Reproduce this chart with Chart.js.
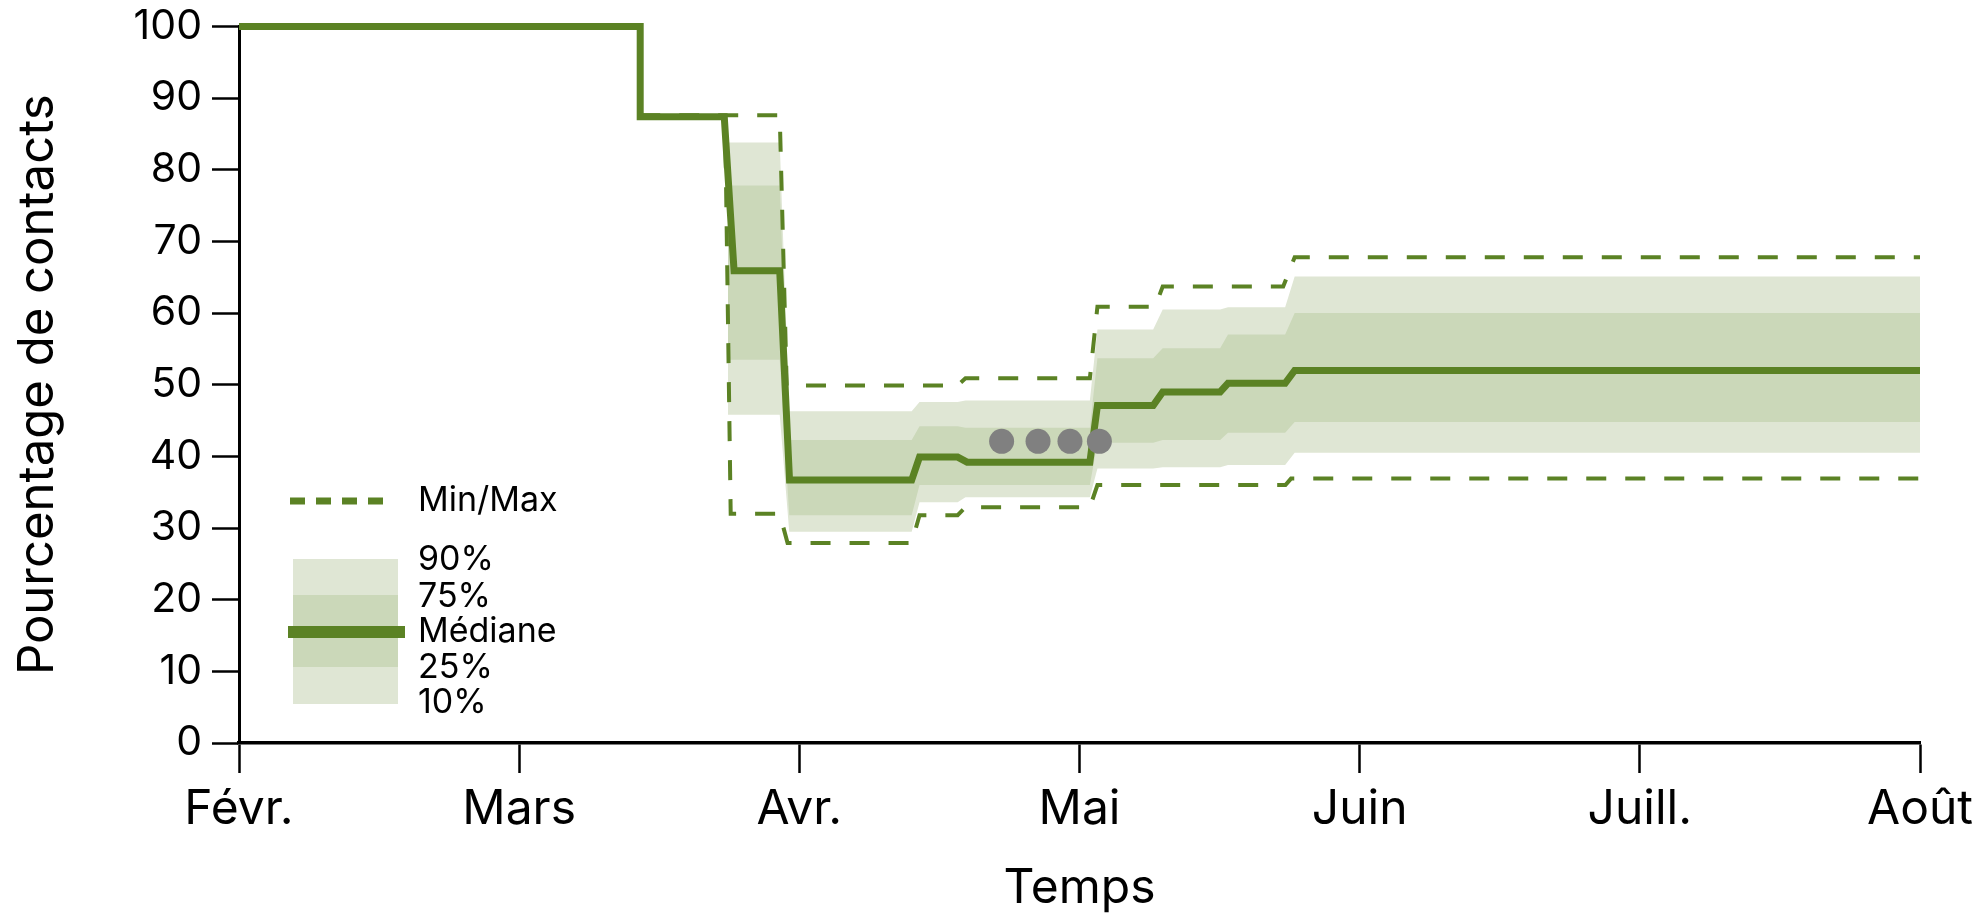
<!DOCTYPE html>
<html>
<head>
<meta charset="utf-8">
<script src="https://cdn.jsdelivr.net/npm/chart.js@4/dist/chart.umd.min.js"></script>
<style>
  html, body { margin: 0; padding: 0; background: #fff; }
  canvas { display: block; }
</style>
</head>
<body>
<canvas id="grafico" width="1982" height="913"></canvas>
<script>
// Axe des temps en mois : 0 = début février, 6 = début août
const mois = ["Févr.", "Mars", "Avr.", "Mai", "Juin", "Juill.", "Août"];

// Médiane
const medianeT = [0, 1.432, 1.432, 1.732, 1.767, 1.930, 1.965, 2.401, 2.429, 2.565, 2.599, 3.037, 3.064, 3.263, 3.297, 3.502, 3.530, 3.734, 3.768, 6.0];
const mediane  = [100, 100, 87.4, 87.4, 65.9, 65.9, 36.7, 36.7, 39.9, 39.9, 39.2, 39.2, 47.1, 47.1, 49.0, 49.0, 50.2, 50.2, 52.0, 52.0];

// Min / Max
const maxT = [1.432, 1.930, 1.955, 2.565, 2.593, 3.037, 3.064, 3.270, 3.297, 3.727, 3.768, 6.0];
const maxV = [87.6, 87.6, 49.9, 49.9, 50.9, 50.9, 60.9, 60.9, 63.7, 63.7, 67.8, 67.8];
const minT = [1.432, 1.735, 1.755, 1.930, 1.958, 2.401, 2.429, 2.565, 2.593, 3.037, 3.064, 3.735, 3.755, 6.0];
const minV = [87.5, 87.5, 32.0, 32.0, 27.9, 27.9, 31.8, 31.8, 32.9, 32.9, 36.0, 36.0, 36.9, 36.9];

// Percentiles (bandes)
const bandeT = [1.745, 1.930, 1.964, 2.401, 2.429, 2.565, 2.593, 3.037, 3.064, 3.263, 3.297, 3.502, 3.530, 3.734, 3.768, 6.0];
const p90 = [83.8, 83.8, 46.3, 46.3, 47.6, 47.6, 47.8, 47.8, 57.7, 57.7, 60.5, 60.5, 60.8, 60.8, 65.1, 65.1];
const p75 = [77.8, 77.8, 42.3, 42.3, 44.2, 44.2, 44.0, 44.0, 53.7, 53.7, 55.1, 55.1, 57.0, 57.0, 60.0, 60.0];
const p25 = [53.5, 53.5, 31.8, 31.8, 36.0, 36.0, 36.0, 36.0, 41.9, 41.9, 42.3, 42.3, 43.3, 43.3, 44.8, 44.8];
const p10 = [45.8, 45.8, 29.5, 29.5, 33.6, 33.6, 34.3, 34.3, 38.3, 38.3, 38.5, 38.5, 38.8, 38.8, 40.5, 40.5];

// Points gris
const pointsT = [2.722, 2.852, 2.966, 3.071];
const pointsY = [42.1, 42.1, 42.1, 42.1];

const vert = "#5b8224";
const clair = "#dfe6d4";
const fonce = "#cbd8b9";

function pts(xs, ys) {
  return xs.map((x, i) => ({ x: x, y: ys[i] }));
}

Chart.defaults.font.family = "Inter";
Chart.defaults.color = "#000";

// Légende dessinée dans la zone du graphique
const legendeInterne = {
  id: 'legendeInterne',
  afterDraw(chart) {
    const ctx = chart.ctx;
    const x0 = chart.chartArea.left;
    ctx.save();
    ctx.strokeStyle = vert;
    ctx.lineWidth = 7;
    ctx.setLineDash([15, 11]);
    ctx.beginPath();
    ctx.moveTo(x0 + 51, 501);
    ctx.lineTo(x0 + 147, 501);
    ctx.stroke();
    ctx.setLineDash([]);

    ctx.fillStyle = clair;
    ctx.fillRect(x0 + 54, 559, 105, 145);
    ctx.fillStyle = fonce;
    ctx.fillRect(x0 + 54, 595, 105, 72);
    ctx.lineWidth = 12;
    ctx.beginPath();
    ctx.moveTo(x0 + 49, 632);
    ctx.lineTo(x0 + 166, 632);
    ctx.stroke();

    ctx.fillStyle = "#000";
    ctx.font = "34px Inter";
    ctx.textAlign = "left";
    ctx.textBaseline = "middle";
    const tx = x0 + 179;
    ctx.fillText("Min/Max", tx, 501);
    ctx.fillText("90%", tx, 560);
    ctx.fillText("75%", tx, 597);
    ctx.fillText("Médiane", tx, 632);
    ctx.fillText("25%", tx, 668);
    ctx.fillText("10%", tx, 703);
    ctx.restore();
  }
};

// on fixe la taille des axes pour caler la zone du graphique
function caler(s, cote, taille) {
  s[cote] = taille;
  s.paddingTop = 0;
  s.paddingBottom = 0;
  s.paddingLeft = 0;
  s.paddingRight = 0;
}

new Chart(document.getElementById("grafico"), {
  type: 'line',
  data: {
    datasets: [
      {
        label: "points",
        data: pts(pointsT, pointsY),
        showLine: false,
        pointRadius: 12.5,
        pointBackgroundColor: "#808080",
        pointBorderWidth: 0,
        clip: false
      },
      {
        label: "Médiane",
        data: pts(medianeT, mediane),
        borderColor: vert,
        borderWidth: 7,
        pointRadius: 0,
        fill: false,
        clip: false
      },
      {
        label: "Max",
        data: pts(maxT, maxV),
        borderColor: vert,
        borderWidth: 4,
        borderDash: [20, 19],
        pointRadius: 0,
        fill: false,
        clip: false
      },
      {
        label: "Min",
        data: pts(minT, minV),
        borderColor: vert,
        borderWidth: 4,
        borderDash: [20, 19],
        pointRadius: 0,
        fill: false,
        clip: false
      },
      {
        label: "75%",
        data: pts(bandeT, p75),
        borderColor: "transparent",
        backgroundColor: fonce,
        pointRadius: 0,
        fill: 5
      },
      {
        label: "25%",
        data: pts(bandeT, p25),
        borderColor: "transparent",
        pointRadius: 0,
        fill: false
      },
      {
        label: "90%",
        data: pts(bandeT, p90),
        borderColor: "transparent",
        backgroundColor: clair,
        pointRadius: 0,
        fill: 7
      },
      {
        label: "10%",
        data: pts(bandeT, p10),
        borderColor: "transparent",
        pointRadius: 0,
        fill: false
      }
    ]
  },
  options: {
    responsive: false,
    animation: false,
    events: [],
    devicePixelRatio: 1,
    layout: { padding: { top: 26.5, right: 62, left: 0, bottom: 0 } },
    plugins: {
      legend: { display: false },
      tooltip: { enabled: false }
    },
    scales: {
      x: {
        type: 'linear',
        min: 0,
        max: 6,
        ticks: {
          stepSize: 1,
          autoSkip: false,
          maxRotation: 0,
          padding: 8,
          font: { size: 48 },
          callback: v => mois[Math.round(v)]
        },
        grid: { drawOnChartArea: false, tickLength: 30, tickColor: "#000", tickWidth: 2.5 },
        border: { color: "#000", width: 3.5 },
        title: { display: true, text: "Temps", font: { size: 48 }, padding: { top: 0, bottom: -4 } },
        afterFit: s => caler(s, "height", 170)
      },
      y: {
        min: 0,
        max: 100,
        ticks: { stepSize: 10, padding: 10, font: { size: 41 } },
        grid: { drawOnChartArea: false, tickLength: 27, tickColor: "#000", tickWidth: 2.5 },
        border: { color: "#000", width: 3 },
        title: { display: true, text: "Pourcentage de contacts", font: { size: 49 }, padding: { top: 9, bottom: 0 } },
        afterFit: s => caler(s, "width", 239)
      }
    }
  },
  plugins: [legendeInterne]
});
</script>
</body>
</html>
